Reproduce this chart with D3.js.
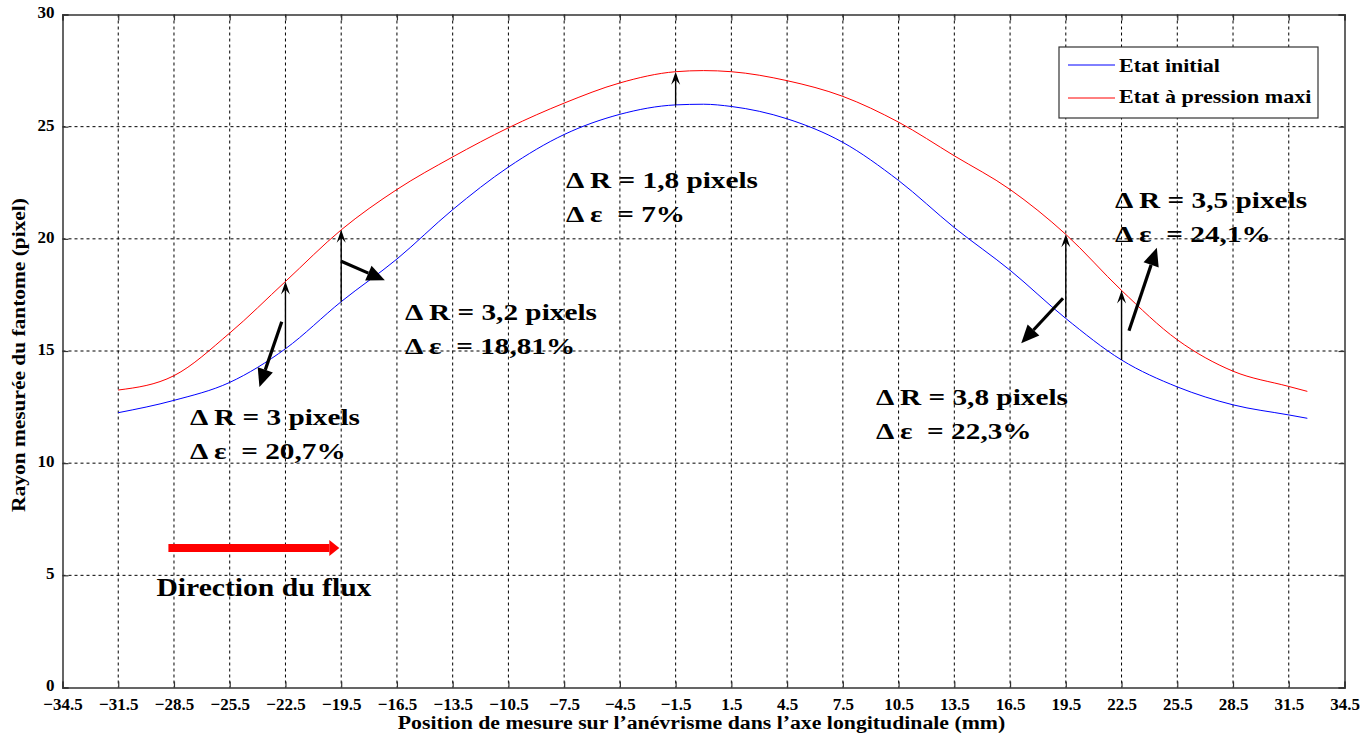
<!DOCTYPE html>
<html>
<head>
<meta charset="utf-8">
<script src="https://cdn.jsdelivr.net/npm/d3@7"></script>
<style>
	body { margin: 0; background: #fff; }
	svg { display: block; }
	text { font-family: "Liberation Serif", "Times New Roman", "DejaVu Serif", serif; font-weight: bold; white-space: pre; }
</style>
</head>
<body>
<svg width="1370" height="738"></svg>
<script>
const serif = '"Liberation Serif", "Times New Roman", "DejaVu Serif", serif';

// positions along the aneurysm (mm)
const positions = [-31.5, -28.5, -25.5, -22.5, -19.5, -16.5, -13.5, -10.5, -7.5, -4.5, -1.5, 0, 1.5, 4.5, 7.5, 10.5, 13.5, 16.5, 19.5, 22.5, 25.5, 28.5, 31.5, 32.5];
// measured radius (pixel)
const initial = [12.25, 12.8, 13.6, 15.1, 17.2, 19.1, 21.3, 23.2, 24.65, 25.55, 25.97, 26.0, 25.9, 25.35, 24.3, 22.6, 20.5, 18.6, 16.45, 14.6, 13.4, 12.6, 12.15, 12.0];
const pressure = [13.26, 13.9, 15.8, 18.1, 20.4, 22.2, 23.65, 24.95, 26.05, 26.95, 27.45, 27.5, 27.45, 27.05, 26.35, 25.2, 23.7, 22.2, 20.2, 17.7, 15.5, 14.1, 13.42, 13.2];

const xTicks = d3.range(-34.5, 34.6, 3);
const yTicks = [0, 5, 10, 15, 20, 25, 30];

const seriesNames = ['Etat initial', 'Etat à pression maxi'];
const seriesColors = ['#0000ff', '#ff0000'];

// vertical delta arrows: x, from, to
const deltaArrows = [
	[-22.5, 15.1, 18.1],
	[-19.5, 17.2, 20.4],
	[-1.5, 25.97, 27.45],
	[19.5, 16.5, 20.2],
	[22.5, 14.6, 17.7]
];
// pointer arrows: x1, y1, x2, y2
const pointerArrows = [
	[-22.7, 16.3, -23.9, 13.4],
	[-19.5, 19.0, -17.15, 18.15],
	[19.35, 17.35, 17.1, 15.35],
	[22.9, 15.9, 24.4, 19.6]
];
// annotation labels: x, y, lines
const labels = [
	[-7.4, 22.27, ['Δ R = 1,8 pixels', 'Δ ε  = 7%']],
	[-16.07, 16.38, ['Δ R = 3,2 pixels', 'Δ ε  = 18,81%']],
	[-27.64, 11.7, ['Δ R = 3 pixels', 'Δ ε  = 20,7%']],
	[9.28, 12.6, ['Δ R = 3,8 pixels', 'Δ ε  = 22,3%']],
	[22.15, 21.38, ['Δ R = 3,5 pixels', 'Δ ε  = 24,1%']]
];
const flowArrow = [-28.8, -19.6, 6.22];

const svg = d3.select('svg'),
	margin = {top: 14.5, right: 25.5, bottom: 50.5, left: 62.5},
	width = 1370 - margin.left - margin.right,
	height = 738 - margin.top - margin.bottom,
	stretch = 1.2; // the source figure is widened horizontally

const x = d3.scaleLinear().domain([-34.5, 34.5]).range([0, width]);
const y = d3.scaleLinear().domain([0, 30]).range([height, 0]);

const g = svg.append('g').attr('transform', `translate(${margin.left},${margin.top})`);

// grid
g.append('g').selectAll('line')
	.data(xTicks.slice(1, -1))
	.enter().append('line')
	.attr('x1', d => x(d)).attr('x2', d => x(d))
	.attr('y1', 0).attr('y2', height)
	.attr('stroke', '#000').attr('stroke-width', 1).attr('stroke-dasharray', '3,3');
g.append('g').selectAll('line')
	.data(yTicks.slice(1, -1))
	.enter().append('line')
	.attr('x1', 0).attr('x2', width)
	.attr('y1', d => y(d)).attr('y2', d => y(d))
	.attr('stroke', '#000').attr('stroke-width', 1).attr('stroke-dasharray', '3,3');

// axes
const xAxis = g.append('g').attr('transform', `translate(0,${height})`)
	.call(d3.axisBottom(x).tickValues(xTicks).tickSize(-6).tickPadding(10).tickFormat(d3.format('.1f')));
const xAxisTop = g.append('g')
	.call(d3.axisTop(x).tickValues(xTicks).tickSize(-6).tickFormat(''));
const yAxis = g.append('g')
	.call(d3.axisLeft(y).tickValues(yTicks).tickSize(-6).tickPadding(8));
const yAxisRight = g.append('g').attr('transform', `translate(${width},0)`)
	.call(d3.axisRight(y).tickValues(yTicks).tickSize(-6).tickFormat(''));

[xAxis, xAxisTop, yAxis, yAxisRight].forEach(a => {
	a.attr('font-family', serif);
	a.select('.domain').attr('stroke', '#333').attr('stroke-width', 1.5);
	a.selectAll('.tick line').attr('stroke', '#333').attr('stroke-width', 1.2);
	a.selectAll('.tick text').attr('fill', '#000').style('font-size', '17px')
		.style('font-family', serif).style('font-weight', 'bold');
});
yAxis.selectAll('.tick text').attr('dy', '0.2em');

// curves
const line = d3.line()
	.x((d, i) => x(positions[i]))
	.y(d => y(d))
	.curve(d3.curveMonotoneX);

[initial, pressure].forEach((series, k) => {
	g.append('path')
		.datum(series)
		.attr('fill', 'none')
		.attr('stroke', seriesColors[k])
		.attr('stroke-width', 1)
		.attr('d', line);
});

// arrow helper
function arrow(x1, y1, x2, y2, opts) {
	const ang = Math.atan2(y2 - y1, x2 - x1);
	const len = opts.head, w = opts.wide;
	const bx = x2 - len * Math.cos(ang), by = y2 - len * Math.sin(ang);
	const nx = -Math.sin(ang) * w / 2, ny = Math.cos(ang) * w / 2;
	const nb = opts.notch || 0;
	const mx = x2 - (len - nb) * Math.cos(ang), my = y2 - (len - nb) * Math.sin(ang);
	g.append('line')
		.attr('x1', x1).attr('y1', y1)
		.attr('x2', mx).attr('y2', my)
		.attr('stroke', opts.color).attr('stroke-width', opts.stroke);
	g.append('path')
		.attr('d', `M${x2},${y2}L${bx + nx},${by + ny}L${mx},${my}L${bx - nx},${by - ny}Z`)
		.attr('fill', opts.color);
}

deltaArrows.forEach(d => {
	arrow(x(d[0]), y(d[1]), x(d[0]), y(d[2]), {color: '#000', stroke: 1.4, head: 13, wide: 9, notch: 5});
});
pointerArrows.forEach(d => {
	arrow(x(d[0]), y(d[1]), x(d[2]), y(d[3]), {color: '#000', stroke: 3.2, head: 18, wide: 16, notch: 0});
});
arrow(x(flowArrow[0]), y(flowArrow[2]), x(flowArrow[1]), y(flowArrow[2]), {color: '#ff0000', stroke: 8, head: 10, wide: 16, notch: 0});

// stretched text helper
function wideText(parent, px, py, size, sx) {
	return parent.append('text')
		.attr('transform', `translate(${px},${py}) scale(${sx},1)`)
		.style('font-size', size + 'px');
}

wideText(g, x(flowArrow[0]) - 12, y(flowArrow[2]) + 48, 26, 1.14).text('Direction du flux');

// annotations
labels.forEach(d => {
	const t = wideText(g, x(d[0]), y(d[1]), 24, 1.22);
	d[2].forEach((s, i) => {
		t.append('tspan').attr('x', 0).attr('y', i * 34).text(s);
	});
});

// legend
const legend = g.append('g').attr('transform', `translate(${1059 - margin.left},${47 - margin.top})`);
legend.append('rect')
	.attr('width', 259).attr('height', 71)
	.attr('fill', '#fff').attr('stroke', '#333').attr('stroke-width', 1.2);
seriesNames.forEach((name, i) => {
	legend.append('line')
		.attr('x1', 9).attr('x2', 56)
		.attr('y1', 18 + i * 33).attr('y2', 18 + i * 33)
		.attr('stroke', seriesColors[i]).attr('stroke-width', 1);
	wideText(legend, 60, 25 + i * 31, 19, 1.16).text(name);
});

// axis titles
wideText(svg, margin.left + width / 2 - 2, 729, 18, 1.21)
	.attr('text-anchor', 'middle')
	.text('Position de mesure sur l’anévrisme dans l’axe longitudinale (mm)');
svg.append('text')
	.attr('transform', 'translate(25,355) rotate(-90) scale(1.19,1)')
	.attr('text-anchor', 'middle')
	.style('font-size', '18px')
	.text('Rayon mesurée du fantome (pixel)');
</script>
</body>
</html>
